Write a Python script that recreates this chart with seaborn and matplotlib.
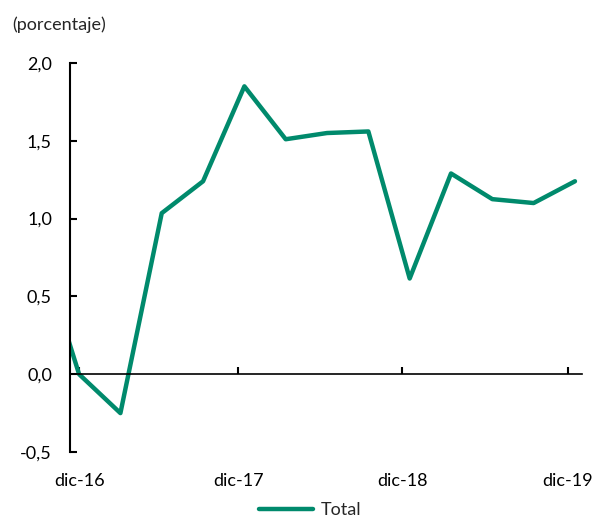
import matplotlib
matplotlib.use("Agg")
import matplotlib.pyplot as plt
import seaborn as sns
import pandas as pd

# Data (quarterly, percent)
periods = ["sep-16", "dic-16", "mar-17", "jun-17", "sep-17", "dic-17", "mar-18",
           "jun-18", "sep-18", "dic-18", "mar-19", "jun-19", "sep-19", "dic-19"]
positions = [-1, 0, 1, 2, 3, 4, 5, 6, 7, 8, 9, 10, 11, 12]
values = [0.85, 0.0, -0.25, 1.035, 1.24, 1.85, 1.51, 1.55, 1.56, 0.615, 1.29, 1.125, 1.10, 1.24]
tick_labels = ["dic-16", "dic-17", "dic-18", "dic-19"]
tick_pos = [0, 3.85, 7.82, 11.83]
y_ticks = [-0.5, 0.0, 0.5, 1.0, 1.5, 2.0]
series_name = "Total"

sns.set_style("white")
plt.rcParams["font.family"] = ["Lato", "DejaVu Sans"]

color = "#008A6C"
df = pd.DataFrame({"x": positions, "y": values, "serie": series_name})

fig = plt.figure(figsize=(6.04, 5.19), dpi=100)
ax = fig.add_axes([70 / 604, (519 - 452) / 519, 512 / 604, 389 / 519])

sns.lineplot(data=df, x="x", y="y", hue="serie", palette=[color], linewidth=3.2,
             ax=ax, legend=False, clip_on=True)

ax.set_xlim(-0.22, 12.17)
ax.set_ylim(-0.5, 2.0)
ax.set_xlabel("")
ax.set_ylabel("")

ax.spines["top"].set_visible(False)
ax.spines["right"].set_visible(False)
ax.spines["left"].set_color("black")
ax.spines["left"].set_linewidth(1.5)
ax.spines["bottom"].set_position(("data", 0))
ax.spines["bottom"].set_color("black")
ax.spines["bottom"].set_linewidth(1.2)

ax.set_yticks(y_ticks)
ax.set_yticklabels([f"{v:.1f}".replace(".", ",") for v in y_ticks])
ax.set_xticks(tick_pos)
ax.set_xticklabels(tick_labels)

ax.tick_params(axis="y", direction="in", length=5, width=1.5, pad=13,
               labelsize=13, colors="black", left=True)
ax.tick_params(axis="x", direction="in", length=5, width=1.5, pad=71,
               labelsize=13, colors="black", bottom=True)

fig.text(12 / 604, 1 - 25 / 519, "(porcentaje)", fontsize=13, ha="left", va="center")

handle = plt.Line2D([], [], color=color, linewidth=3.2)
fig.legend([handle], [series_name], loc="center", bbox_to_anchor=(310 / 604, 1 - 510 / 519),
           frameon=False, fontsize=13, handlelength=3.0, handletextpad=0.4,
           borderpad=0, borderaxespad=0)

fig.savefig("out.png", dpi=100)
